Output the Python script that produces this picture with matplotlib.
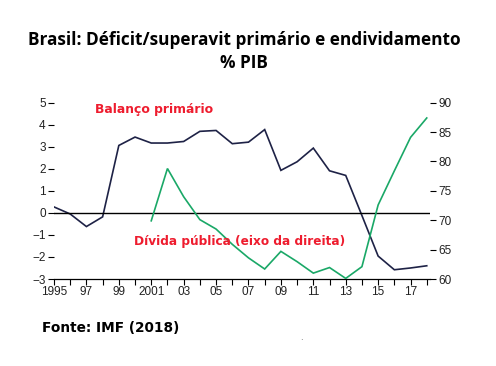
import matplotlib
matplotlib.use("Agg")
import matplotlib.pyplot as plt
from matplotlib.ticker import MultipleLocator, FixedLocator
from matplotlib import font_manager

years_bal = list(range(1995, 2019))
balance = [0.27, -0.05, -0.62, -0.18, 3.06, 3.44, 3.17, 3.17, 3.24, 3.70, 3.74, 3.14,
           3.21, 3.78, 1.93, 2.32, 2.94, 1.91, 1.70, -0.12, -1.96, -2.58, -2.50, -2.40]

years_debt = list(range(2001, 2019))
debt = [69.9, 78.8, 74.0, 70.1, 68.5, 65.9, 63.6, 61.7, 64.7, 62.95, 61.0, 61.95,
        60.1, 62.1, 72.6, 78.4, 84.1, 87.4]

xtick_years = list(range(1995, 2019, 2))
xtick_labels = ["1995", "97", "99", "2001", "03", "05", "07", "09", "11", "13", "15", "17"]
left_ticks = [-3, -2, -1, 0, 1, 2, 3, 4, 5]
right_ticks = [60, 65, 70, 75, 80, 85, 90]

names = {f.name for f in font_manager.fontManager.ttflist}
tick_font = "Liberation Sans Narrow" if "Liberation Sans Narrow" in names else "Liberation Sans"
title_font = "Open Sans"

W, H = 496, 366
fig = plt.figure(figsize=(W / 100, H / 100), dpi=100)
x0, x1 = 54, 430
y_top, y_bot = 102.7, 279
ax = fig.add_axes([x0 / W, (H - y_bot) / H, (x1 - x0) / W, (y_bot - y_top) / H])
ax2 = ax.twinx()

navy = "#1e2246"
green = "#1aa867"
red = "#ee1c2e"

ax.plot(years_bal, balance, color=navy, lw=1.2, solid_joinstyle="miter")
ax.axhline(0, color="black", lw=1.0)
ax2.plot(years_debt, debt, color=green, lw=1.2, solid_joinstyle="miter")

ax.set_xlim(1995, 2018.2)
ax.set_ylim(-3, 5)
ax2.set_ylim(60, 90)

for a in (ax, ax2):
    for s in ("top", "left", "right"):
        a.spines[s].set_visible(False)
ax2.spines["bottom"].set_visible(False)
ax.spines["bottom"].set_linewidth(0.9)

ax.xaxis.set_major_locator(FixedLocator(xtick_years))
ax.xaxis.set_minor_locator(MultipleLocator(1))
ax.set_xticks(xtick_years, xtick_labels)
ax.set_yticks(left_ticks, [str(v).replace("-", "\u2212") for v in left_ticks])
ax2.set_yticks(right_ticks, [str(v) for v in right_ticks])

ax.tick_params(axis="x", which="both", direction="out", length=4, width=0.8, pad=1,
               labelsize=8.5, color="black")
ax.tick_params(axis="y", direction="out", length=4, width=0.8, pad=2, labelsize=8.5)
ax2.tick_params(axis="y", direction="out", length=4, width=0.8, pad=2, labelsize=8.5)
for lab in ax.get_xticklabels() + ax.get_yticklabels() + ax2.get_yticklabels():
    lab.set_fontfamily(tick_font)
    lab.set_color("#222222")

fig.text(95 / W, 1 - 110 / H, "Balanço primário", color=red, fontsize=8.9,
         fontweight="bold", family="DejaVu Sans", va="center", ha="left")
fig.text(134 / W, 1 - 242 / H, "Dívida pública (eixo da direita)", color=red, fontsize=8.7,
         fontweight="bold", family="DejaVu Sans", va="center", ha="left")

fig.text(244 / W, 1 - 40 / H, "Brasil: Déficit/superavit primário e endividamento",
         fontsize=12.4, fontweight="bold", family=title_font, ha="center", va="center")
fig.text(244 / W, 1 - 63 / H, "% PIB", fontsize=12.4, fontweight="bold",
         family=title_font, ha="center", va="center")

fig.text(42 / W, 1 - 328 / H, "Fonte: IMF (2018)", fontsize=9.8, fontweight="bold",
         family="DejaVu Sans", ha="left", va="center")
fig.text(301 / W, 1 - 337 / H, ".", fontsize=6, color="#555555", ha="center", va="center")

fig.savefig("out.png", dpi=100, facecolor="white")
